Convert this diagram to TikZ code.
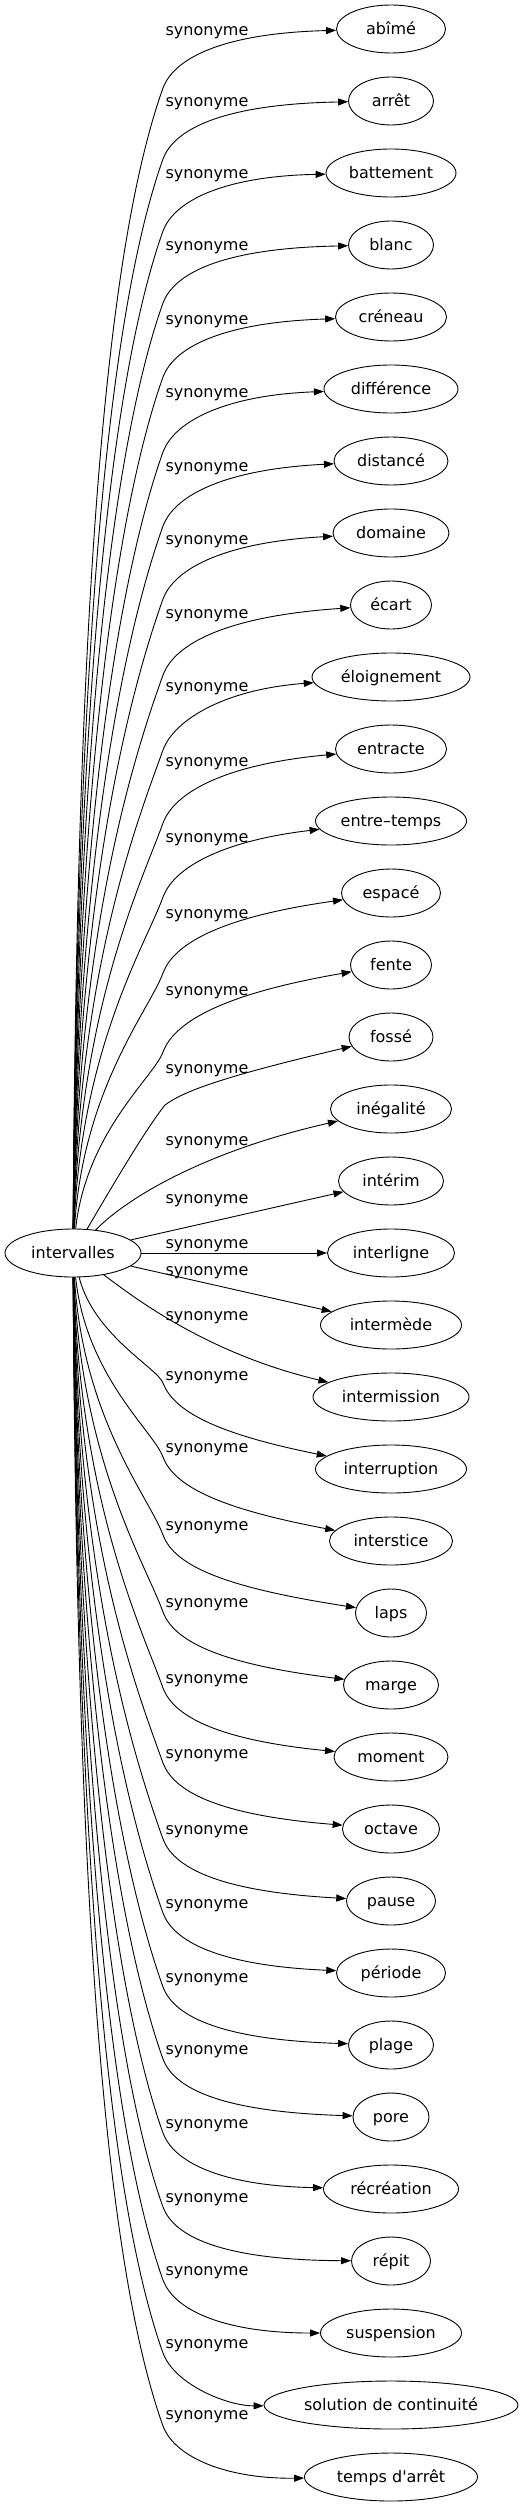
\documentclass[tikz,border=0pt]{standalone}
\usepackage{fontspec}
\newfontfamily\dv{DejaVu Sans}
\usetikzlibrary{shapes.geometric,arrows.meta}
\tikzset{
  txt/.style={font=\dv\fontsize{16pt}{19pt}\selectfont, text height=12pt, text depth=1pt, inner sep=0pt},
  tgt/.style={txt, draw, ellipse, minimum height=48pt, line width=0.9pt},
  lab/.style={txt},
  edge/.style={line width=0.9pt, -{Triangle[length=10pt,width=7pt]}}
}
\begin{document}
\begin{tikzpicture}[x=1pt,y=-1pt]
\path[use as bounding box] (0,0) rectangle (526,2507);
\node[tgt, minimum width=136pt] (iv) at (73,1253) {intervalles};
\foreach \i/\w/\t in {0/109/abîmé, 1/85/arrêt, 2/130/battement, 3/85/blanc, 4/111/créneau,
  5/134/différence, 6/114/distancé, 7/116/domaine, 8/81/écart, 9/158/éloignement,
  10/111/entracte, 11/151/entre–temps, 12/99/espacé, 13/81/fente, 14/84/fossé,
  15/121/inégalité, 16/105/intérim, 17/127/interligne, 18/141/intermède, 19/156/intermission,
  20/151/interruption, 21/123/interstice, 22/71/laps, 23/95/marge, 24/114/moment,
  25/97/octave, 26/89/pause, 27/109/période, 28/85/plage, 29/76/pore,
  30/135/récréation, 31/79/répit, 32/141/suspension, 33/254/solution de continuité, 34/173/temps d'arrêt}{
  \node[tgt, minimum width=\w pt] (n\i) at (391,{29+72*\i}) {\t};
}
% upper edges
\foreach \i/\L/\off in {0/30/58, 1/101/58, 2/173/58, 3/245/58, 4/319/58, 5/392/60, 6/466/60,
  7/539/60, 8/613/62, 9/686/64, 10/761/62, 11/837/60, 12/913/60, 13/990/62}{
  \pgfmathsetmacro\by{\L+\off}
  \pgfmathsetmacro\d{1229-\by}
  \pgfmathsetmacro\sx{75+2000/\d}
  \pgfmathsetmacro\cay{1229-0.55*\d}
  \pgfmathsetmacro\cbx{163-0.05*\d}
  \pgfmathsetmacro\cby{\by+0.14*\d}
  \coordinate (b\i) at (163,\by);
  \node[lab] (l\i) at (207,\L) {synonyme};
  \draw[edge] (iv) .. controls (\sx,\cay) and (\cbx,\cby) .. (b\i)
     .. controls (175,\by-32) and (228,\L+3) .. (n\i);
}
% near edges
\node[lab] (l14) at (207,1068) {synonyme};
\coordinate (b14) at (165,1105);
\draw[edge] (iv) .. controls (110,1190) and (145,1130) .. (b14) .. controls (185,1090) and (230,1075) .. (n14);
\node[lab] (l15) at (207,1140) {synonyme};
\draw[edge] (iv) .. controls (130,1195) and (210,1150) .. (n15);
\node[lab] (l16) at (207,1198) {synonyme};
\draw[edge] (iv) -- (n16);
\node[lab] (l17) at (207,1243) {synonyme};
\draw[edge] (iv) -- (n17);
\node[lab] (l18) at (207,1270) {synonyme};
\draw[edge] (iv) -- (n18);
\node[lab] (l19) at (207,1315) {synonyme};
\draw[edge] (iv) .. controls (125,1290) and (200,1352) .. (n19);
% lower edges
\foreach \i/\L/\off in {20/1375/8, 21/1447/10, 22/1525/10, 23/1602/10, 24/1678/10, 25/1753/10,
  26/1829/10, 27/1903/10, 28/1977/10, 29/2049/10, 30/2123/10, 31/2197/10, 32/2270/10,
  33/2343/10, 34/2414/12}{
  \pgfmathsetmacro\by{\L+\off}
  \pgfmathsetmacro\d{\by-1277}
  \pgfmathsetmacro\sx{75+2000/\d}
  \pgfmathsetmacro\cay{1277+0.55*\d}
  \pgfmathsetmacro\cbx{163-0.05*\d}
  \pgfmathsetmacro\cby{\by-0.14*\d}
  \coordinate (b\i) at (163,\by);
  \node[lab] (l\i) at (207,\L) {synonyme};
  \draw[edge] (iv) .. controls (\sx,\cay) and (\cbx,\cby) .. (b\i)
     .. controls (175,\by+32) and (228,\by+53) .. (n\i);
}
\end{tikzpicture}
\end{document}
